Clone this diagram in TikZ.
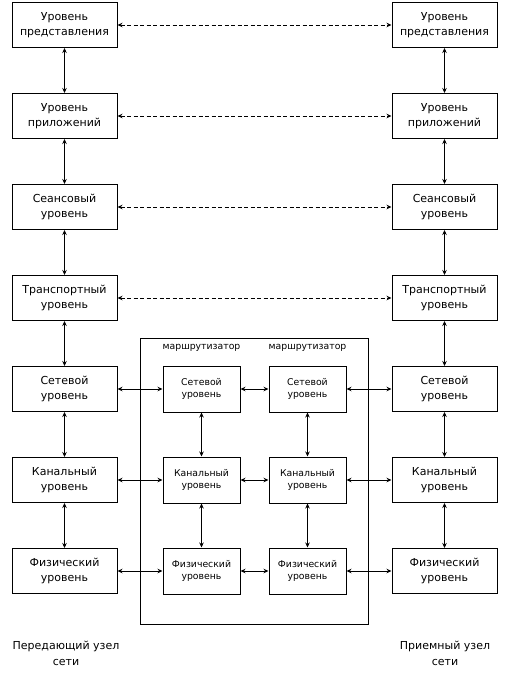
\documentclass[tikz,border=0pt]{standalone}
\usepackage{fontspec}
\setmainfont{DejaVu Sans}
\usetikzlibrary{arrows.meta}
\begin{document}
\begin{tikzpicture}[x=1pt,y=-1pt,
  outer/.style={draw,line width=1pt,minimum width=105pt,minimum height=45pt,inner sep=0pt,align=center,font=\fontsize{11}{14.5}\selectfont},
  inner/.style={draw,line width=1pt,minimum width=77pt,minimum height=46pt,inner sep=0pt,align=center,font=\fontsize{9.3}{11.5}\selectfont},
  lbl/.style={align=center,font=\fontsize{11}{16}\selectfont},
  rlbl/.style={font=\fontsize{9.3}{11}\selectfont},
  conn/.style={line width=0.9pt,{Stealth[length=5pt,width=4.5pt]}-{Stealth[length=5pt,width=4.5pt]}},
  dconn/.style={conn,dash pattern=on 4pt off 2.5pt}]
\useasboundingbox (0,0) rectangle (514,679);
% router frame
\node[draw,line width=1pt,minimum width=228pt,minimum height=286pt,inner sep=0pt] (frame) at (254,481) {};
\node[rlbl] (r1) at (201.5,348) {маршрутизатор};
\node[rlbl] (r2) at (307.5,348) {маршрутизатор};
% left column
\node[outer] (l1) at (64.5,25) {Уровень\\представления};
\node[outer] (l2) at (64.5,116) {Уровень\\приложений};
\node[outer] (l3) at (64.5,207) {Сеансовый\\уровень};
\node[outer] (l4) at (64.5,298) {Транспортный\\уровень};
\node[outer] (l5) at (64.5,389) {Сетевой\\уровень};
\node[outer] (l6) at (64.5,480) {Канальный\\уровень};
\node[outer] (l7) at (64.5,571) {Физический\\уровень};
% right column
\node[outer] (p1) at (444.5,25) {Уровень\\представления};
\node[outer] (p2) at (444.5,116) {Уровень\\приложений};
\node[outer] (p3) at (444.5,207) {Сеансовый\\уровень};
\node[outer] (p4) at (444.5,298) {Транспортный\\уровень};
\node[outer] (p5) at (444.5,389) {Сетевой\\уровень};
\node[outer] (p6) at (444.5,480) {Канальный\\уровень};
\node[outer] (p7) at (444.5,571) {Физический\\уровень};
% inner routers
\node[inner] (a5) at (201.5,389) {Сетевой\\уровень};
\node[inner] (a6) at (201.5,480) {Канальный\\уровень};
\node[inner] (a7) at (201.5,571) {Физический\\уровень};
\node[inner] (b5) at (307.5,389) {Сетевой\\уровень};
\node[inner] (b6) at (307.5,480) {Канальный\\уровень};
\node[inner] (b7) at (307.5,571) {Физический\\уровень};
% vertical connectors
\foreach \c in {l,p}{
  \draw[conn] (\c1) -- (\c2);
  \draw[conn] (\c2) -- (\c3);
  \draw[conn] (\c3) -- (\c4);
  \draw[conn] (\c4) -- (\c5);
  \draw[conn] (\c5) -- (\c6);
  \draw[conn] (\c6) -- (\c7);
}
\foreach \c in {a,b}{
  \draw[conn] (\c5) -- (\c6);
  \draw[conn] (\c6) -- (\c7);
}
% horizontal dashed
\foreach \i in {1,2,3,4}{
  \draw[dconn] (l\i) -- (p\i);
}
% horizontal solid
\foreach \i in {5,6,7}{
  \draw[conn] (l\i) -- (a\i);
  \draw[conn] (a\i) -- (b\i);
  \draw[conn] (b\i) -- (p\i);
}
% bottom labels
\node[lbl] (s) at (66,653) {Передающий узел\\сети};
\node[lbl] (d) at (445,653) {Приемный узел\\сети};
\end{tikzpicture}
\end{document}
